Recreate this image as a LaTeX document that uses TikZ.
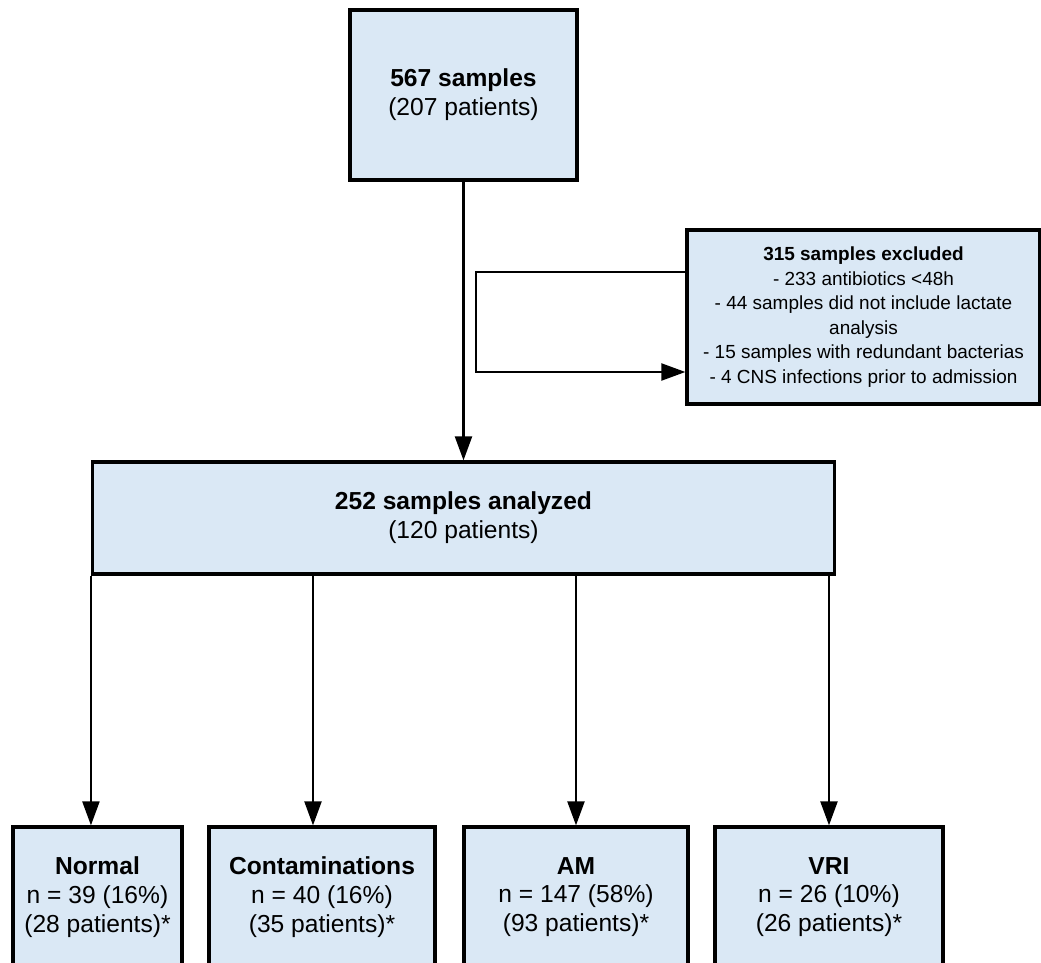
\documentclass[tikz,border=0pt]{standalone}
\usepackage{fontspec}
\setmainfont{Liberation Sans}
\usepackage{tikz}
\usepackage{xcolor}
\usetikzlibrary{arrows.meta}
\usetikzlibrary{positioning}
\definecolor{boxblue}{RGB}{218,232,245}

\begin{document}
\begin{tikzpicture}[->,>={Triangle[length=0.6cm,width=0.42cm]},auto,line width=1.9pt]
			\tikzstyle{block}=[rectangle,draw=black,line width=2.2pt,fill=boxblue,text=black,align=center,font=\fontsize{17.5}{20.5}\selectfont]
			\tikzstyle{small block}=[block,font=\fontsize{13.5}{17.5}\selectfont]
			\useasboundingbox (-11.5875,2.375) rectangle (14.4375,-21.7);
			\node[block,minimum width=5.675cm,minimum height=4.25cm]    (total)                                       {\textbf{567 samples}\\(207 patients)};
			\node[block,minimum width=18.55cm,minimum height=2.8cm]     (analyzed)[below of=total, node distance=10.575cm] {\textbf{252 samples analyzed}\\(120 patients)};
			\node[small block,minimum width=8.825cm,minimum height=4.35cm] (excluded)[right of=total, node distance=10cm, yshift=-5.55cm]
				{\textbf{315 samples excluded}\\- 233 antibiotics <48h\\- 44 samples did not include lactate\\analysis\\- 15 samples with redundant bacterias\\- 4 CNS infections prior to admission};
			\node[block,minimum width=4.225cm,minimum height=3.5cm]     (normal)[below of=analyzed, node distance=9.475cm, xshift=-9.15cm] {\textbf{Normal}\\n = 39 (16\%)\\(28 patients)*};
			\node[block,minimum width=5.65cm,minimum height=3.5cm]      (cont)[right of=normal, node distance=5.6125cm]    {\textbf{Contaminations}\\n = 40 (16\%)\\(35 patients)*};
			\node[block,minimum width=5.6cm,minimum height=3.5cm]       (am)[right of=cont, node distance=6.35cm]          {\textbf{AM}\\n = 147 (58\%)\\(93 patients)*};
			\node[block,minimum width=5.7cm,minimum height=3.5cm]       (vri)[right of=am, node distance=6.325cm]          {\textbf{VRI}\\n = 26 (10\%)\\(26 patients)*};
			\coordinate[left of=excluded, node distance=9.6875cm] (turn);
			\draw ([yshift=1.125cm]excluded.west) -| (turn) |- ([yshift=-1.375cm]excluded.west);
			\path
			(total) edge (analyzed)
			(analyzed.south west) edge (analyzed.south west |- normal.north)
			([xshift=-0.225cm]cont.north |- analyzed.south) edge ([xshift=-0.225cm]cont.north)
			(am.north |- analyzed.south) edge (am.north)
			(vri.north |- analyzed.south) edge (vri.north);
\end{tikzpicture}
\end{document}
